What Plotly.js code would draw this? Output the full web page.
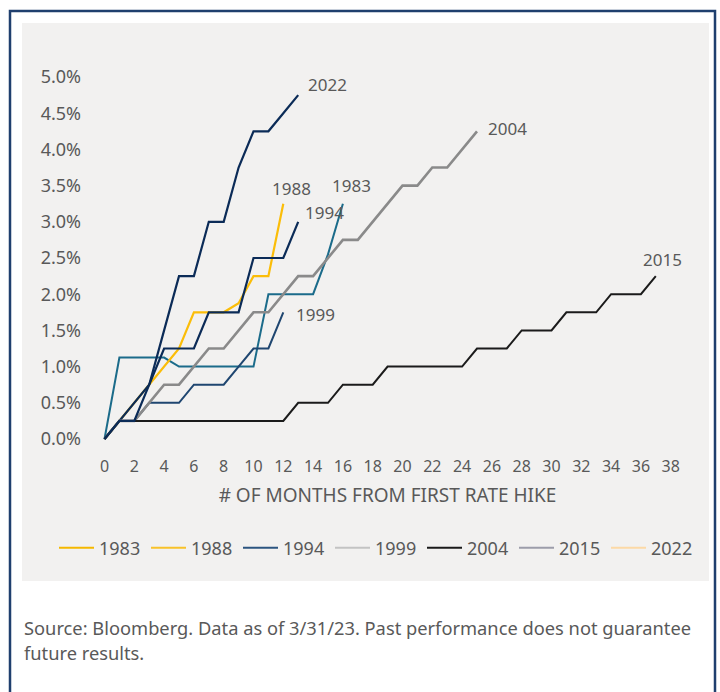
<!DOCTYPE html>
<html>
<head>
<meta charset="utf-8">
<script src="https://cdn.plot.ly/plotly-3.0.1.min.js"></script>
<style>
  html, body { margin: 0; padding: 0; background: #ffffff; }
  #chart { width: 720px; height: 692px; }
</style>
</head>
<body>
<div id="chart"></div>
<script>
// Cumulative rate change (%) by month from first rate hike
const series1983 = [0, 1.125, 1.125, 1.125, 1.125, 1.0, 1.0, 1.0, 1.0, 1.0, 1.0, 2.0, 2.0, 2.0, 2.0, 2.55, 3.25];
const series1988 = [0, 0.25, 0.5, 0.75, 1.0, 1.25, 1.75, 1.75, 1.75, 1.875, 2.25, 2.25, 3.25];
const series1994 = [0, 0.25, 0.5, 0.75, 1.25, 1.25, 1.25, 1.75, 1.75, 1.75, 2.5, 2.5, 2.5, 3.0];
const series1999 = [0, 0.25, 0.25, 0.5, 0.5, 0.5, 0.75, 0.75, 0.75, 1.0, 1.25, 1.25, 1.75];
const series2004 = [0, 0.25, 0.25, 0.5, 0.75, 0.75, 1.0, 1.25, 1.25, 1.5, 1.75, 1.75, 2.0, 2.25, 2.25, 2.5, 2.75, 2.75, 3.0, 3.25, 3.5, 3.5, 3.75, 3.75, 4.0, 4.25];
const series2015 = [0, 0.25, 0.25, 0.25, 0.25, 0.25, 0.25, 0.25, 0.25, 0.25, 0.25, 0.25, 0.25, 0.5, 0.5, 0.5, 0.75, 0.75, 0.75, 1.0, 1.0, 1.0, 1.0, 1.0, 1.0, 1.25, 1.25, 1.25, 1.5, 1.5, 1.5, 1.75, 1.75, 1.75, 2.0, 2.0, 2.0, 2.25];
const series2022 = [0, 0.25, 0.25, 0.75, 1.5, 2.25, 2.25, 3.0, 3.0, 3.75, 4.25, 4.25, 4.5, 4.75];

const seriesNames = ['1983', '1988', '1994', '1999', '2004', '2015', '2022'];
const seriesValues = [series1983, series1988, series1994, series1999, series2004, series2015, series2022];
const xTickValues = [0, 2, 4, 6, 8, 10, 12, 14, 16, 18, 20, 22, 24, 26, 28, 30, 32, 34, 36, 38];
const yTickValues = [0, 0.5, 1.0, 1.5, 2.0, 2.5, 3.0, 3.5, 4.0, 4.5, 5.0];

// styles
const lineColors  = ['#1b6b8a', '#fbbd08', '#0b2b57', '#1f4670', '#8a8a8a', '#1b1b1b', '#0b2b57'];
const lineWidths  = [2, 2.2, 2.2, 2, 2.6, 2, 2.2];
const legendColors = ['#f5b800', '#f8c22a', '#2c5580', '#c3c3c3', '#1a1a1a', '#9c9daa', '#fcd9a6'];
// label offsets (px) from each series' last point
const labelPos = {
  '1983': {xanchor: 'center', xs: 9,  ys: 18},
  '1988': {xanchor: 'center', xs: 8,  ys: 15},
  '1994': {xanchor: 'left',   xs: 5,  ys: 9},
  '1999': {xanchor: 'left',   xs: 11, ys: -2},
  '2004': {xanchor: 'left',   xs: 9,  ys: 3},
  '2015': {xanchor: 'center', xs: 7,  ys: 17},
  '2022': {xanchor: 'left',   xs: 8,  ys: 11}
};

const FONT = 'Noto Sans, Open Sans, sans-serif';
const TXT = '#595959';

const traces = [];
const annotations = [];
seriesNames.forEach((name, i) => {
  const ys = seriesValues[i];
  const xs = ys.map((_, k) => k);
  traces.push({
    type: 'scatter', mode: 'lines', name: name,
    x: xs, y: ys, showlegend: false,
    line: {color: lineColors[i], width: lineWidths[i]},
    hoverinfo: 'x+y+name'
  });
  const p = labelPos[name];
  annotations.push({
    x: xs[xs.length - 1], y: ys[ys.length - 1], xref: 'x', yref: 'y',
    text: name, showarrow: false, xanchor: p.xanchor, yanchor: 'middle',
    xshift: p.xs, yshift: p.ys,
    font: {family: FONT, size: 17, color: TXT}
  });
});
// legend entries (the original legend swatches use their own colours)
seriesNames.forEach((name, i) => {
  traces.push({
    type: 'scatter', mode: 'lines', name: name,
    x: [null], y: [null], showlegend: true, hoverinfo: 'skip',
    line: {color: legendColors[i], width: 2}
  });
});

// pixel helpers for paper coordinates
const L = 90, R = 35, T = 60, B = 242, W = 720, H = 692;
const pw = W - L - R, ph = H - T - B;
const px = v => (v - L) / pw;
const py = v => (H - B - v) / ph;

annotations.push({
  xref: 'paper', yref: 'paper', x: px(22), y: py(627), xanchor: 'left', yanchor: 'middle',
  text: 'Source: Bloomberg. Data as of 3/31/23. Past performance does not guarantee', showarrow: false,
  font: {family: FONT, size: 18.3, color: TXT}
});
annotations.push({
  xref: 'paper', yref: 'paper', x: px(22), y: py(652), xanchor: 'left', yanchor: 'middle',
  text: 'future results.', showarrow: false,
  font: {family: FONT, size: 18.3, color: TXT}
});

const layout = {
  width: W, height: H,
  margin: {l: L, r: R, t: T, b: B, pad: 0},
  paper_bgcolor: '#ffffff',
  plot_bgcolor: 'rgba(0,0,0,0)',
  font: {family: FONT, color: TXT},
  xaxis: {
    range: [-0.973, 38.96], tickvals: xTickValues, ticktext: xTickValues.map(String),
    showgrid: false, zeroline: false, showline: false, ticks: '',
    tickfont: {family: FONT, size: 16, color: TXT},
    ticklabelstandoff: 5,
    title: {text: '# OF MONTHS FROM FIRST RATE HIKE', font: {family: FONT, size: 19, color: TXT}, standoff: 12}
  },
  yaxis: {
    range: [-0.152, 5.235], tickvals: yTickValues, ticktext: yTickValues.map(v => v.toFixed(1) + '%'),
    showgrid: false, zeroline: false, showline: false, ticks: '',
    tickfont: {family: FONT, size: 18, color: TXT},
    ticklabelstandoff: 8
  },
  legend: {
    orientation: 'h', x: px(54), y: py(548), xanchor: 'left', yanchor: 'middle',
    font: {family: FONT, size: 18, color: TXT},
    bgcolor: 'rgba(0,0,0,0)', entrywidth: 42, entrywidthmode: 'pixels',
    itemwidth: 35,
    traceorder: 'normal'
  },
  shapes: [
    {type: 'rect', xref: 'paper', yref: 'paper', x0: px(22), x1: px(709), y0: py(581), y1: py(23),
     fillcolor: '#f2f1f0', line: {width: 0}, layer: 'below'},
    {type: 'rect', xref: 'paper', yref: 'paper', x0: px(10), x1: px(715), y0: py(705), y1: py(11),
     fillcolor: 'rgba(0,0,0,0)', line: {width: 2.5, color: '#1f3f6e'}, layer: 'below'}
  ],
  annotations: annotations,
  showlegend: true
};

Plotly.newPlot('chart', traces, layout, {displayModeBar: false, staticPlot: true});
</script>
</body>
</html>
